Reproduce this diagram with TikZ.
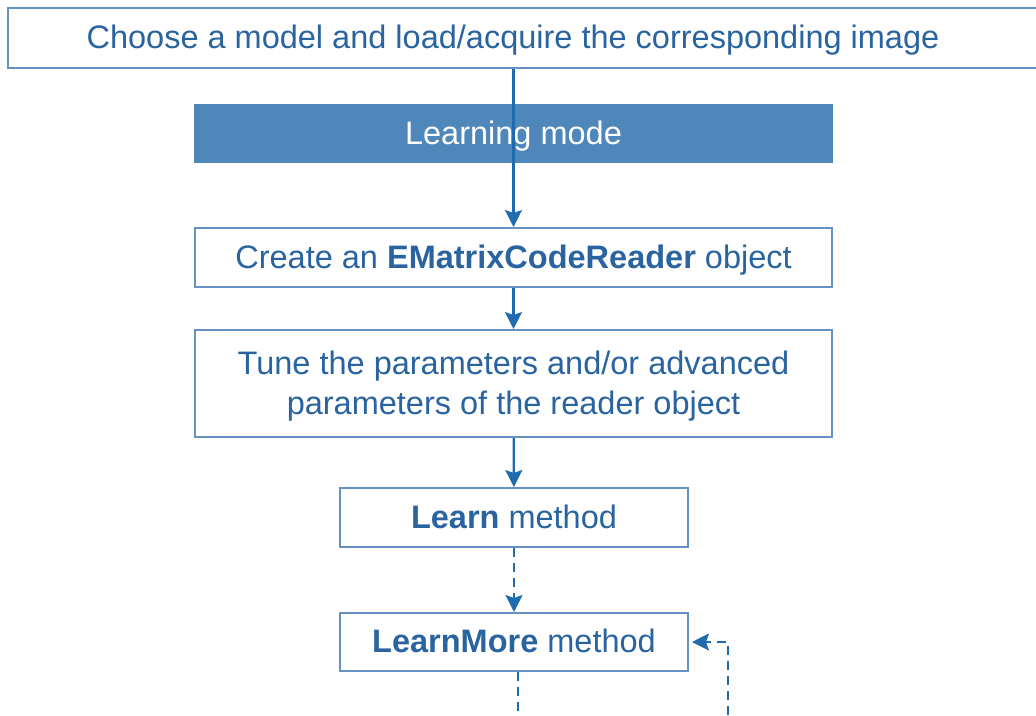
\documentclass[tikz,border=0pt]{standalone}
\usepackage{fontspec}
\setmainfont{Liberation Sans}
\usetikzlibrary{arrows.meta}
\definecolor{boxline}{HTML}{6592C0}
\definecolor{boxfill}{HTML}{4F87BB}
\definecolor{txtblue}{HTML}{2A64A0}
\definecolor{arrowblue}{HTML}{1F6BB0}
\tikzset{
  stepbox/.style={draw=boxline,line width=2pt,text=txtblue,align=center,inner sep=0pt,
    font=\fontsize{32.5}{40}\selectfont,text depth=2pt},
  modebox/.style={stepbox,fill=boxfill,draw=boxfill,text=white},
  flow/.style={draw=arrowblue,line width=2.2pt,-{Stealth[length=17pt,width=17pt,inset=3pt]}},
  flowdash/.style={flow,dash pattern=on 9pt off 6pt}
}
\begin{document}
\begin{tikzpicture}[x=1pt,y=-1pt]
  \clip (0,0) rectangle (1036,715);
  \fill[white] (0,0) rectangle (1036,715);
  \node[stepbox,minimum width=1040,minimum height=60] (top) at (528,38) {\hspace*{-30pt}Choose a model and load/acquire the corresponding image};
  \node[modebox,minimum width=637,minimum height=57] (mode) at (513.5,133.5) {Learning mode};
  \node[stepbox,minimum width=637,minimum height=59] (create) at (513.5,257.5) {Create an \textbf{EMatrixCodeReader} object};
  \node[stepbox,minimum width=637,minimum height=107] (tune) at (513.5,383.5) {Tune the parameters and/or advanced\\parameters of the reader object};
  \node[stepbox,minimum width=348,minimum height=59] (learn) at (514,517.5) {\textbf{Learn} method};
  \node[stepbox,minimum width=348,minimum height=58] (more) at (514,642) {\textbf{LearnMore} method};
  \coordinate (loopl) at (518,730);
  \coordinate (loopr) at (728,730);
  \draw[flow] (create.north |- top.south) -- (create.north);
  \draw[flow] (create) -- (tune);
  \draw[flow] (tune) -- (learn);
  \draw[flowdash] (learn) -- (more);
  \draw[flowdash,-] (more.south -| loopl) -- (loopl);
  \draw[flowdash] (loopr) |- ([xshift=3pt]more.east);
\end{tikzpicture}
\end{document}
